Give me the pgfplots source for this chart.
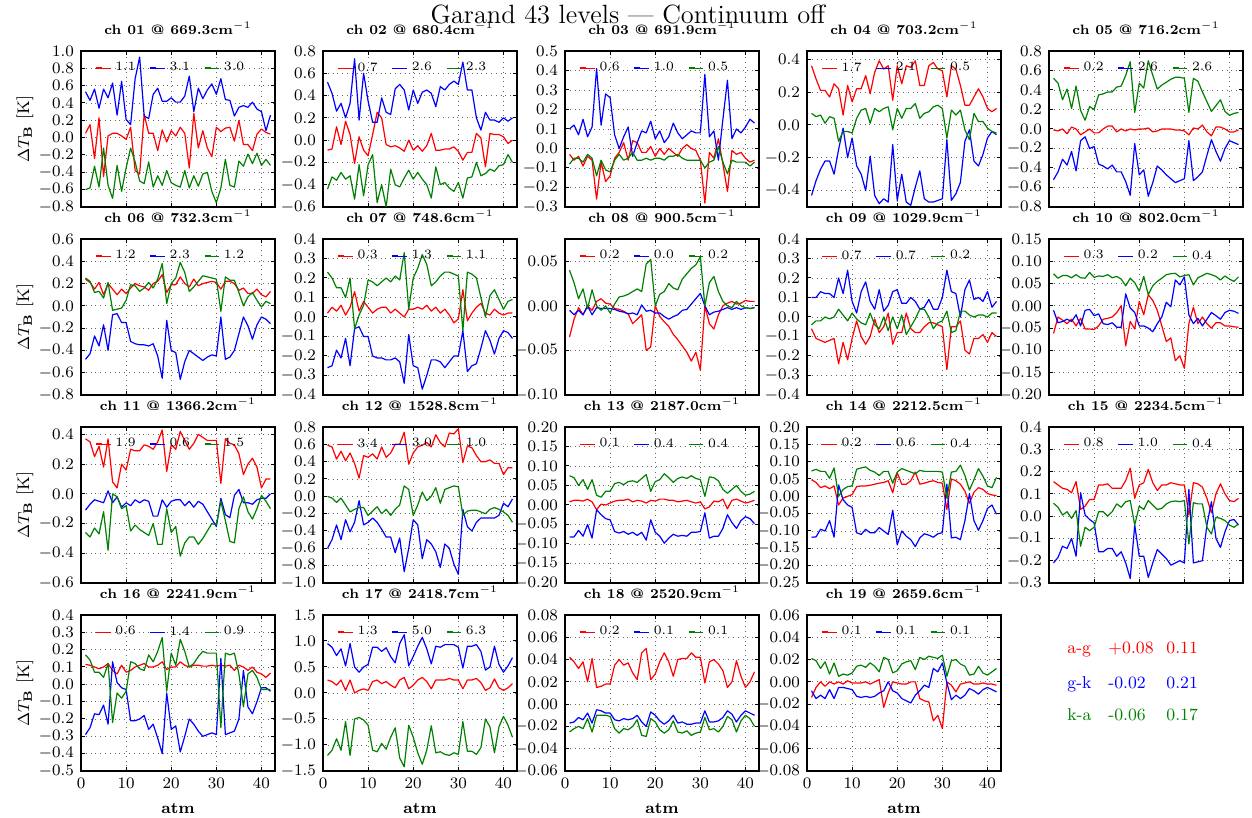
\documentclass[border=0pt]{standalone}
\usepackage{pgfplots}
\pgfplotsset{compat=1.18}
\definecolor{cR}{rgb}{1,0,0}
\definecolor{cB}{rgb}{0,0,1}
\definecolor{cG}{rgb}{0,0.5,0}

% one series: values at levels 1..42
\newcommand{\ser}[2]{\addplot[#1] table[row sep=\\, header=false, x expr=\coordindex+1, y index=0] {#2};}

\pgfplotsset{
  panel/.style={
    scale only axis, width=97pt, height=78pt, anchor=south west,
    xmin=0, xmax=43, xtick={0,10,20,30,40}, xticklabels={},
    scaled y ticks=false, tick align=inside, major tick length=2.2pt,
    every tick/.style={black, line width=0.5pt},
    axis line style={line width=0.8pt},
    grid=major, major grid style={dotted, black!60, line width=0.4pt},
    tick label style={font=\fontsize{8}{9}\selectfont},
    title style={font=\bfseries\fontsize{6.8}{8}\selectfont, at={(0.5,1)}, anchor=base, yshift=2.4pt, inner sep=0pt},
    every axis plot/.append style={line width=0.6pt, line join=round},
    legend columns=3,
    legend style={draw=none, fill=none, at={(0,1)}, anchor=north west, xshift=7pt, yshift=-3.5pt,
      inner sep=0pt, font=\fontsize{6.4}{7}\selectfont,
      /tikz/every even column/.append style={column sep=5pt}},
    legend image code/.code={\draw[##1, line width=0.7pt] (0pt,0pt) -- (3pt,0pt); \path (0pt,0pt) -- (7.4pt,0pt);},
  },
  p1/.style={yticklabel style={/pgf/number format/.cd, fixed, fixed zerofill, precision=1}},
  p2/.style={yticklabel style={/pgf/number format/.cd, fixed, fixed zerofill, precision=2}},
  leftcol/.style={ylabel={$\Delta T_{\mathbf{B}}$ [K]},
    ylabel style={at={(axis description cs:-0.289,0.5)}, anchor=center, font=\fontsize{8.4}{10}\selectfont}},
  bottomrow/.style={xticklabels={0,10,20,30,40}, xlabel={\textbf{atm}},
    xlabel style={at={(axis description cs:0.5,0)}, anchor=center, yshift=-18.5pt, font=\fontsize{8}{10}\selectfont}},
}

\begin{document}
\begin{tikzpicture}
\useasboundingbox (0,0) rectangle (626pt,409pt);

\node[font=\fontsize{13.2}{15}\selectfont, inner sep=0pt, anchor=base] at (314pt,397pt) {Garand 43 levels --- Continuum off};

% ---------------- row 1 ----------------
\begin{axis}[panel, p1, leftcol, at={(40.5pt,305.5pt)}, title={ch 01 @ 669.3cm$^{-1}$},
  ymin=-0.8, ymax=1.0, ytick={-0.8,-0.6,-0.4,-0.2,0,0.2,0.4,0.6,0.8,1.0}]
\ser{cR}{0.05\\0.15\\-0.24\\0.23\\-0.45\\0.02\\0.05\\0.05\\0.02\\-0.02\\0.12\\-0.38\\-0.42\\0.27\\0.05\\0.05\\-0.15\\0.09\\-0.05\\0.08\\0.02\\0.12\\0.05\\-0.35\\0.28\\-0.12\\0.08\\-0.12\\-0.22\\0.12\\0.07\\0.11\\0.12\\-0.04\\0.20\\-0.08\\-0.08\\-0.15\\0.04\\0.10\\0.06\\0.04\\}
\ser{cB}{0.53\\0.43\\0.56\\0.34\\0.56\\0.46\\0.63\\0.26\\0.65\\0.21\\0.15\\0.68\\0.93\\0.25\\0.22\\0.50\\0.57\\0.42\\0.42\\0.46\\0.41\\0.41\\0.48\\0.71\\0.30\\0.57\\0.45\\0.55\\0.62\\0.50\\0.68\\0.44\\0.43\\0.25\\0.35\\0.37\\0.35\\0.41\\0.33\\0.30\\0.08\\0.26\\}
\ser{cG}{-0.60\\-0.58\\-0.33\\-0.57\\-0.12\\-0.55\\-0.70\\-0.32\\-0.62\\-0.35\\-0.12\\-0.28\\-0.50\\-0.53\\-0.28\\-0.57\\-0.44\\-0.55\\-0.38\\-0.52\\-0.55\\-0.57\\-0.38\\-0.58\\-0.44\\-0.56\\-0.42\\-0.40\\-0.62\\-0.75\\-0.58\\-0.25\\-0.55\\-0.57\\-0.27\\-0.33\\-0.19\\-0.30\\-0.18\\-0.32\\-0.25\\-0.32\\}
\legend{1.1,3.1,3.0}
\end{axis}

\begin{axis}[panel, p1, at={(161.5pt,305.5pt)}, title={ch 02 @ 680.4cm$^{-1}$},
  ymin=-0.6, ymax=0.8, ytick={-0.6,-0.4,-0.2,0,0.2,0.4,0.6,0.8}]
\ser{cR}{-0.09\\-0.08\\0.12\\-0.04\\0.17\\0.05\\-0.21\\0.03\\-0.09\\-0.14\\0.05\\0.25\\0.20\\-0.04\\-0.06\\-0.05\\-0.07\\-0.10\\0.00\\-0.09\\-0.05\\-0.10\\-0.05\\0.06\\-0.09\\-0.09\\-0.08\\-0.08\\-0.06\\-0.10\\-0.18\\-0.11\\-0.11\\0.06\\0.02\\-0.24\\0.06\\0.05\\0.05\\0.03\\-0.03\\0.00\\}
\ser{cB}{0.52\\0.42\\0.26\\0.33\\0.20\\0.33\\0.73\\0.18\\0.60\\0.35\\0.16\\0.16\\0.38\\0.25\\0.23\\0.46\\0.50\\0.45\\0.27\\0.45\\0.33\\0.43\\0.45\\0.42\\0.30\\0.48\\0.45\\0.50\\0.53\\0.50\\0.70\\0.45\\0.45\\0.20\\0.09\\0.25\\0.18\\0.18\\0.16\\0.20\\0.17\\0.20\\}
\ser{cG}{-0.44\\-0.33\\-0.36\\-0.29\\-0.35\\-0.32\\-0.53\\-0.22\\-0.50\\-0.22\\-0.13\\-0.56\\-0.40\\-0.60\\-0.26\\-0.40\\-0.42\\-0.34\\-0.27\\-0.35\\-0.29\\-0.35\\-0.40\\-0.52\\-0.24\\-0.40\\-0.38\\-0.43\\-0.46\\-0.38\\-0.52\\-0.34\\-0.33\\-0.20\\-0.32\\-0.30\\-0.26\\-0.28\\-0.23\\-0.22\\-0.13\\-0.20\\}
\legend{0.7,2.6,2.3}
\end{axis}

\begin{axis}[panel, p1, at={(282.5pt,305.5pt)}, title={ch 03 @ 691.9cm$^{-1}$},
  ymin=-0.3, ymax=0.5, ytick={-0.3,-0.2,-0.1,0,0.1,0.2,0.3,0.4,0.5}]
\ser{cR}{-0.03\\-0.06\\-0.04\\-0.09\\-0.04\\-0.06\\-0.26\\-0.07\\-0.17\\-0.14\\-0.05\\-0.02\\0.03\\-0.06\\0.04\\0.03\\-0.02\\-0.02\\0.01\\-0.04\\0.00\\-0.03\\0.00\\-0.02\\-0.04\\0.00\\0.02\\0.00\\-0.01\\-0.06\\-0.28\\-0.02\\-0.05\\0.05\\-0.08\\-0.22\\-0.01\\-0.03\\-0.02\\-0.05\\-0.07\\-0.06\\}
\ser{cB}{0.10\\0.12\\0.07\\0.15\\0.06\\0.11\\0.41\\0.12\\0.28\\0.26\\0.07\\0.00\\0.06\\0.11\\-0.04\\0.03\\0.09\\0.08\\0.14\\0.05\\0.09\\0.03\\0.06\\0.13\\0.08\\0.05\\0.07\\0.09\\0.08\\0.08\\0.38\\0.06\\0.09\\-0.06\\0.15\\0.35\\0.05\\0.10\\0.08\\0.11\\0.15\\0.13\\}
\ser{cG}{-0.08\\-0.05\\-0.05\\-0.07\\-0.03\\-0.05\\-0.14\\-0.06\\-0.11\\-0.12\\-0.06\\-0.03\\-0.06\\-0.05\\-0.02\\-0.06\\-0.06\\-0.05\\-0.06\\-0.05\\-0.05\\-0.06\\-0.04\\-0.04\\-0.03\\-0.05\\-0.06\\-0.06\\-0.06\\-0.06\\-0.10\\-0.07\\-0.06\\0.01\\-0.07\\-0.13\\-0.06\\-0.07\\-0.07\\-0.07\\-0.09\\-0.07\\}
\legend{0.6,1.0,0.5}
\end{axis}

\begin{axis}[panel, p1, at={(403.5pt,305.5pt)}, title={ch 04 @ 703.2cm$^{-1}$},
  ymin=-0.5, ymax=0.45, ytick={-0.4,-0.2,0,0.2,0.4}]
\ser{cR}{0.36\\0.28\\0.21\\0.21\\0.17\\0.25\\0.22\\0.06\\0.24\\0.14\\0.22\\0.22\\0.30\\0.19\\0.32\\0.39\\0.34\\0.36\\0.15\\0.36\\0.25\\0.36\\0.35\\0.39\\0.24\\0.24\\0.36\\0.38\\0.34\\0.33\\0.17\\0.36\\0.34\\0.24\\0.12\\0.12\\0.17\\0.22\\0.17\\0.10\\0.08\\0.10\\}
\ser{cB}{-0.43\\-0.34\\-0.27\\-0.22\\-0.22\\-0.30\\-0.15\\-0.02\\-0.20\\-0.08\\-0.25\\-0.30\\-0.40\\-0.19\\-0.43\\-0.48\\-0.45\\-0.47\\-0.12\\-0.46\\-0.30\\-0.47\\-0.49\\-0.38\\-0.28\\-0.45\\-0.47\\-0.47\\-0.46\\-0.45\\-0.09\\-0.46\\-0.42\\-0.35\\-0.10\\-0.03\\-0.22\\-0.25\\-0.18\\-0.08\\-0.04\\-0.06\\}
\ser{cG}{0.07\\0.05\\0.06\\0.01\\0.05\\0.04\\-0.10\\-0.04\\-0.04\\-0.05\\0.04\\0.09\\0.10\\0.01\\0.10\\0.08\\0.10\\0.11\\-0.03\\0.10\\0.04\\0.10\\0.10\\0.13\\0.04\\0.07\\0.08\\0.11\\0.12\\0.10\\-0.08\\0.09\\0.06\\0.09\\-0.03\\-0.09\\0.07\\0.02\\0.02\\-0.02\\-0.04\\-0.05\\}
\legend{1.7,2.1,0.5}
\end{axis}

\begin{axis}[panel, p1, at={(524.5pt,305.5pt)}, title={ch 05 @ 716.2cm$^{-1}$},
  ymin=-0.8, ymax=0.8, ytick={-0.8,-0.6,-0.4,-0.2,0,0.2,0.4,0.6,0.8}]
\ser{cR}{-0.01\\-0.02\\0.00\\-0.05\\0.02\\0.00\\-0.06\\-0.03\\0.00\\-0.04\\-0.04\\0.00\\0.03\\0.03\\-0.03\\0.00\\-0.02\\0.00\\-0.01\\0.00\\0.00\\0.01\\-0.03\\-0.02\\0.00\\0.00\\0.00\\-0.01\\-0.01\\-0.02\\-0.06\\0.01\\0.00\\0.04\\-0.03\\-0.07\\0.02\\0.02\\0.00\\-0.03\\-0.03\\-0.01\\}
\ser{cB}{-0.52\\-0.44\\-0.31\\-0.37\\-0.23\\-0.43\\-0.12\\-0.08\\-0.20\\-0.18\\-0.36\\-0.38\\-0.41\\-0.37\\-0.44\\-0.44\\-0.54\\-0.68\\-0.15\\-0.47\\-0.42\\-0.69\\-0.55\\-0.38\\-0.42\\-0.47\\-0.51\\-0.55\\-0.53\\-0.51\\-0.12\\-0.53\\-0.49\\-0.44\\-0.27\\-0.11\\-0.23\\-0.33\\-0.20\\-0.12\\-0.14\\-0.16\\}
\ser{cG}{0.52\\0.47\\0.30\\0.41\\0.21\\0.44\\0.19\\0.09\\0.23\\0.20\\0.35\\0.36\\0.38\\0.38\\0.43\\0.44\\0.55\\0.69\\0.17\\0.47\\0.42\\0.70\\0.55\\0.41\\0.45\\0.48\\0.51\\0.53\\0.53\\0.52\\0.17\\0.52\\0.49\\0.38\\0.28\\0.18\\0.24\\0.30\\0.18\\0.14\\0.16\\0.17\\}
\legend{0.2,2.6,2.6}
\end{axis}

% ---------------- row 2 ----------------
\begin{axis}[panel, p1, leftcol, at={(40.5pt,211.5pt)}, title={ch 06 @ 732.3cm$^{-1}$},
  ymin=-0.8, ymax=0.6, ytick={-0.8,-0.6,-0.4,-0.2,0,0.2,0.4,0.6}]
\ser{cR}{0.24\\0.21\\0.15\\0.21\\0.10\\0.20\\0.15\\0.10\\0.15\\0.11\\0.16\\0.20\\0.18\\0.17\\0.14\\0.20\\0.22\\0.28\\0.12\\0.19\\0.19\\0.26\\0.20\\0.17\\0.24\\0.18\\0.20\\0.21\\0.22\\0.21\\0.15\\0.22\\0.22\\0.20\\0.14\\0.16\\0.11\\0.11\\0.15\\0.10\\0.08\\0.13\\}
\ser{cB}{-0.48\\-0.43\\-0.27\\-0.36\\-0.17\\-0.40\\-0.08\\-0.07\\-0.15\\-0.15\\-0.32\\-0.34\\-0.35\\-0.35\\-0.36\\-0.34\\-0.45\\-0.65\\-0.13\\-0.40\\-0.42\\-0.66\\-0.50\\-0.40\\-0.43\\-0.46\\-0.49\\-0.46\\-0.44\\-0.45\\-0.10\\-0.48\\-0.46\\-0.40\\-0.25\\-0.10\\-0.18\\-0.30\\-0.17\\-0.10\\-0.12\\-0.16\\}
\ser{cG}{0.25\\0.22\\0.12\\0.13\\0.07\\0.21\\-0.04\\-0.03\\-0.02\\0.05\\0.19\\0.18\\0.13\\0.16\\0.21\\0.16\\0.24\\0.38\\0.02\\0.20\\0.25\\0.39\\0.30\\0.13\\0.17\\0.22\\0.27\\0.26\\0.25\\0.24\\-0.05\\0.26\\0.23\\0.23\\0.12\\0.00\\0.08\\0.12\\0.05\\-0.01\\0.04\\0.02\\}
\legend{1.2,2.3,1.2}
\end{axis}

\begin{axis}[panel, p1, at={(161.5pt,211.5pt)}, title={ch 07 @ 748.6cm$^{-1}$},
  ymin=-0.4, ymax=0.4, ytick={-0.4,-0.3,-0.2,-0.1,0,0.1,0.2,0.3,0.4}]
\ser{cR}{0.02\\0.05\\0.03\\0.06\\0.01\\0.05\\0.13\\0.03\\0.08\\0.05\\0.02\\0.04\\0.05\\0.05\\0.02\\0.04\\0.02\\0.00\\0.04\\0.04\\0.05\\0.04\\0.06\\0.03\\0.05\\0.02\\0.04\\0.01\\-0.03\\-0.01\\0.14\\-0.02\\0.02\\0.05\\0.07\\0.02\\0.01\\0.04\\0.02\\0.01\\0.02\\0.02\\}
\ser{cB}{-0.26\\-0.25\\-0.17\\-0.21\\-0.11\\-0.25\\-0.06\\-0.05\\-0.10\\-0.10\\-0.20\\-0.21\\-0.21\\-0.22\\-0.22\\-0.21\\-0.23\\-0.34\\-0.09\\-0.25\\-0.26\\-0.37\\-0.30\\-0.22\\-0.22\\-0.23\\-0.26\\-0.23\\-0.20\\-0.20\\-0.07\\-0.28\\-0.25\\-0.24\\-0.16\\-0.07\\-0.12\\-0.19\\-0.11\\-0.07\\-0.08\\-0.11\\}
\ser{cG}{0.23\\0.20\\0.15\\0.15\\0.10\\0.20\\-0.06\\0.01\\0.06\\0.19\\0.18\\0.16\\0.18\\0.20\\0.18\\0.21\\0.19\\0.33\\0.04\\0.20\\0.25\\0.32\\0.27\\0.16\\0.18\\0.21\\0.23\\0.23\\0.22\\0.21\\-0.07\\0.23\\0.22\\0.20\\0.10\\0.00\\0.11\\0.14\\0.09\\0.04\\0.08\\0.09\\}
\legend{0.3,1.3,1.1}
\end{axis}

\begin{axis}[panel, p2, at={(282.5pt,211.5pt)}, title={ch 08 @ 900.5cm$^{-1}$},
  ymin=-0.10, ymax=0.075, ytick={-0.10,-0.05,0,0.05}]
\ser{cR}{-0.035\\-0.015\\-0.002\\-0.010\\0.000\\-0.005\\0.005\\0.008\\0.003\\0.002\\-0.003\\-0.004\\-0.006\\-0.009\\-0.020\\-0.015\\-0.010\\-0.050\\-0.046\\0.000\\-0.012\\-0.018\\-0.023\\-0.032\\-0.038\\-0.045\\-0.052\\-0.062\\-0.052\\-0.072\\0.000\\-0.020\\-0.026\\-0.010\\0.000\\0.003\\0.005\\0.002\\0.003\\0.006\\0.005\\0.005\\}
\ser{cB}{-0.005\\-0.010\\-0.005\\-0.010\\0.000\\-0.010\\-0.002\\-0.003\\-0.003\\-0.003\\-0.004\\-0.006\\-0.007\\-0.009\\-0.008\\-0.010\\0.001\\-0.006\\-0.005\\-0.008\\-0.008\\-0.012\\-0.015\\-0.012\\-0.010\\-0.005\\-0.004\\0.002\\0.008\\0.014\\0.000\\-0.010\\-0.007\\-0.006\\-0.004\\-0.002\\-0.004\\-0.002\\-0.004\\-0.002\\-0.003\\-0.002\\}
\ser{cG}{0.040\\0.026\\0.008\\0.019\\-0.003\\0.018\\0.000\\-0.005\\0.000\\-0.008\\0.002\\0.010\\0.011\\0.013\\0.016\\0.019\\0.016\\0.047\\0.052\\0.000\\0.013\\0.016\\0.025\\0.020\\0.018\\0.030\\0.036\\0.042\\0.046\\0.055\\0.000\\0.026\\0.033\\0.016\\0.005\\0.000\\-0.002\\0.005\\0.000\\-0.002\\-0.003\\-0.002\\}
\legend{0.2,0.0,0.2}
\end{axis}

\begin{axis}[panel, p1, at={(403.5pt,211.5pt)}, title={ch 09 @ 1029.9cm$^{-1}$},
  ymin=-0.4, ymax=0.4, ytick={-0.4,-0.3,-0.2,-0.1,0,0.1,0.2,0.3,0.4}]
\ser{cR}{-0.06\\-0.11\\-0.12\\-0.13\\-0.12\\-0.11\\-0.24\\-0.13\\-0.22\\-0.11\\-0.02\\-0.10\\-0.14\\-0.10\\-0.01\\-0.08\\-0.05\\0.02\\-0.14\\-0.08\\-0.08\\0.02\\-0.06\\-0.08\\-0.08\\-0.05\\-0.03\\-0.03\\-0.04\\-0.05\\-0.27\\-0.05\\-0.05\\-0.02\\-0.17\\-0.19\\-0.11\\-0.11\\-0.09\\-0.13\\-0.08\\-0.10\\}
\ser{cB}{0.10\\0.10\\0.13\\0.12\\0.12\\0.10\\0.20\\0.12\\0.24\\0.08\\0.02\\0.13\\0.18\\0.08\\0.04\\0.14\\0.03\\0.06\\0.13\\0.14\\0.07\\0.07\\0.10\\0.08\\0.04\\0.05\\0.09\\0.04\\0.04\\0.10\\0.24\\0.13\\0.12\\0.00\\0.14\\0.19\\0.09\\0.10\\0.08\\0.13\\0.05\\0.08\\}
\ser{cG}{-0.04\\-0.02\\-0.02\\0.00\\-0.01\\0.00\\0.04\\0.01\\-0.02\\0.02\\-0.01\\-0.03\\-0.04\\0.02\\-0.04\\-0.06\\0.00\\-0.07\\0.00\\-0.06\\0.01\\-0.09\\-0.05\\-0.01\\0.04\\0.04\\0.00\\-0.06\\-0.03\\-0.02\\0.03\\-0.08\\-0.07\\0.03\\0.03\\0.01\\0.00\\0.01\\0.01\\0.00\\0.02\\0.02\\}
\legend{0.7,0.7,0.2}
\end{axis}

\begin{axis}[panel, p2, at={(524.5pt,211.5pt)}, title={ch 10 @ 802.0cm$^{-1}$},
  ymin=-0.20, ymax=0.15, ytick={-0.20,-0.15,-0.10,-0.05,0,0.05,0.10,0.15}]
\ser{cR}{-0.062\\-0.025\\-0.032\\-0.040\\-0.030\\-0.045\\-0.028\\-0.052\\-0.052\\-0.053\\-0.045\\-0.030\\-0.028\\-0.025\\-0.015\\0.000\\-0.090\\-0.035\\-0.052\\0.010\\-0.020\\0.025\\0.012\\-0.010\\-0.045\\-0.080\\-0.072\\-0.123\\-0.112\\-0.140\\-0.040\\-0.003\\-0.040\\-0.025\\-0.040\\-0.050\\-0.038\\-0.038\\-0.045\\-0.045\\-0.047\\-0.048\\}
\ser{cB}{-0.010\\-0.038\\-0.035\\-0.030\\-0.035\\-0.020\\-0.045\\-0.010\\-0.008\\-0.022\\-0.018\\-0.040\\-0.042\\-0.038\\-0.048\\-0.048\\0.027\\-0.005\\-0.015\\-0.045\\-0.045\\-0.050\\-0.058\\-0.040\\-0.025\\0.008\\-0.002\\0.058\\0.047\\0.065\\-0.020\\-0.040\\-0.028\\-0.045\\-0.030\\-0.015\\-0.022\\-0.030\\-0.015\\-0.010\\-0.012\\-0.017\\}
\ser{cG}{0.072\\0.062\\0.068\\0.068\\0.063\\0.070\\0.063\\0.062\\0.075\\0.064\\0.067\\0.066\\0.070\\0.063\\0.066\\0.060\\0.045\\0.062\\0.052\\0.033\\0.066\\0.025\\0.045\\0.055\\0.062\\0.070\\0.072\\0.073\\0.065\\0.068\\0.070\\0.047\\0.063\\0.068\\0.073\\0.070\\0.066\\0.058\\0.067\\0.060\\0.055\\0.065\\}
\legend{0.3,0.2,0.4}
\end{axis}

% ---------------- row 3 ----------------
\begin{axis}[panel, p1, leftcol, at={(40.5pt,117.5pt)}, title={ch 11 @ 1366.2cm$^{-1}$},
  ymin=-0.6, ymax=0.45, ytick={-0.6,-0.4,-0.2,0,0.2,0.4}]
\ser{cR}{0.37\\0.35\\0.25\\0.32\\0.18\\0.37\\0.08\\0.04\\0.20\\0.16\\0.30\\0.29\\0.29\\0.33\\0.32\\0.30\\0.35\\0.43\\0.15\\0.33\\0.30\\0.42\\0.36\\0.30\\0.34\\0.40\\0.38\\0.36\\0.36\\0.36\\0.07\\0.37\\0.34\\0.33\\0.27\\0.13\\0.20\\0.24\\0.18\\0.04\\0.10\\0.10\\}
\ser{cB}{-0.11\\-0.07\\-0.04\\-0.05\\-0.06\\0.02\\-0.06\\-0.02\\-0.09\\-0.06\\-0.08\\-0.04\\-0.06\\-0.04\\-0.05\\-0.15\\-0.15\\-0.04\\-0.09\\-0.05\\-0.04\\-0.04\\-0.08\\-0.05\\-0.09\\-0.05\\-0.07\\-0.12\\-0.17\\-0.22\\-0.03\\-0.14\\-0.16\\-0.01\\0.03\\-0.06\\-0.06\\-0.07\\-0.04\\-0.03\\-0.03\\0.00\\}
\ser{cG}{-0.26\\-0.29\\-0.23\\-0.27\\-0.12\\-0.38\\0.00\\-0.02\\-0.10\\-0.08\\-0.25\\-0.21\\-0.24\\-0.26\\-0.28\\-0.20\\-0.34\\-0.34\\-0.10\\-0.26\\-0.22\\-0.42\\-0.33\\-0.29\\-0.29\\-0.34\\-0.30\\-0.25\\-0.20\\-0.21\\-0.05\\-0.18\\-0.32\\-0.33\\-0.10\\-0.02\\-0.12\\-0.17\\-0.10\\-0.01\\-0.05\\-0.10\\}
\legend{1.9,0.6,1.5}
\end{axis}

\begin{axis}[panel, p1, at={(161.5pt,117.5pt)}, title={ch 12 @ 1528.8cm$^{-1}$},
  ymin=-1.0, ymax=0.8, ytick={-1.0,-0.8,-0.6,-0.4,-0.2,0,0.2,0.4,0.6,0.8}]
\ser{cR}{0.59\\0.57\\0.43\\0.52\\0.41\\0.50\\0.38\\0.21\\0.47\\0.45\\0.49\\0.43\\0.57\\0.45\\0.50\\0.60\\0.60\\0.74\\0.37\\0.50\\0.57\\0.59\\0.62\\0.57\\0.71\\0.62\\0.57\\0.73\\0.72\\0.78\\0.39\\0.58\\0.56\\0.47\\0.40\\0.40\\0.42\\0.38\\0.38\\0.25\\0.33\\0.33\\}
\ser{cB}{-0.60\\-0.50\\-0.33\\-0.50\\-0.27\\-0.41\\-0.30\\-0.05\\-0.33\\-0.30\\-0.25\\-0.30\\-0.38\\-0.47\\-0.47\\-0.65\\-0.48\\-0.87\\-0.60\\-0.27\\-0.33\\-0.72\\-0.50\\-0.55\\-0.64\\-0.82\\-0.55\\-0.60\\-0.78\\-0.90\\-0.15\\-0.35\\-0.40\\-0.30\\-0.25\\-0.25\\-0.25\\-0.25\\-0.22\\-0.08\\-0.12\\-0.03\\}
\ser{cG}{0.00\\-0.02\\-0.07\\-0.02\\-0.10\\-0.18\\-0.15\\-0.13\\-0.13\\-0.22\\-0.17\\-0.12\\-0.20\\-0.15\\-0.22\\-0.15\\-0.10\\0.12\\0.08\\-0.22\\-0.10\\0.05\\-0.05\\0.00\\0.10\\-0.08\\0.08\\0.10\\0.12\\0.11\\-0.22\\-0.17\\-0.16\\-0.16\\-0.18\\-0.20\\-0.15\\-0.13\\-0.15\\-0.18\\-0.22\\-0.30\\}
\legend{3.4,3.0,1.0}
\end{axis}

\begin{axis}[panel, p2, at={(282.5pt,117.5pt)}, title={ch 13 @ 2187.0cm$^{-1}$},
  ymin=-0.20, ymax=0.20, ytick={-0.20,-0.15,-0.10,-0.05,0,0.05,0.10,0.15,0.20}]
\ser{cR}{0.008\\0.012\\0.012\\0.010\\0.015\\0.008\\-0.012\\0.002\\0.000\\0.005\\0.010\\0.012\\0.012\\0.015\\0.008\\0.012\\0.010\\0.005\\0.012\\0.010\\0.015\\0.015\\0.012\\0.012\\0.008\\0.010\\0.012\\0.008\\0.005\\0.008\\-0.010\\-0.005\\0.010\\0.008\\0.015\\-0.010\\0.012\\0.015\\0.010\\0.005\\0.008\\0.012\\}
\ser{cB}{-0.082\\-0.082\\-0.065\\-0.080\\-0.050\\-0.085\\-0.012\\-0.025\\-0.035\\-0.038\\-0.068\\-0.072\\-0.068\\-0.075\\-0.070\\-0.078\\-0.070\\-0.090\\-0.038\\-0.070\\-0.080\\-0.098\\-0.085\\-0.075\\-0.080\\-0.078\\-0.080\\-0.070\\-0.070\\-0.068\\-0.020\\-0.085\\-0.080\\-0.080\\-0.060\\-0.025\\-0.045\\-0.060\\-0.040\\-0.030\\-0.035\\-0.048\\}
\ser{cG}{0.075\\0.070\\0.050\\0.065\\0.040\\0.065\\0.025\\0.020\\0.035\\0.035\\0.055\\0.058\\0.052\\0.060\\0.062\\0.058\\0.068\\0.078\\0.035\\0.060\\0.065\\0.080\\0.070\\0.058\\0.068\\0.072\\0.068\\0.075\\0.068\\0.065\\0.022\\0.072\\0.070\\0.062\\0.040\\0.030\\0.040\\0.050\\0.035\\0.025\\0.028\\0.035\\}
\legend{0.1,0.4,0.4}
\end{axis}

\begin{axis}[panel, p2, at={(403.5pt,117.5pt)}, title={ch 14 @ 2212.5cm$^{-1}$},
  ymin=-0.25, ymax=0.20, ytick={-0.25,-0.20,-0.15,-0.10,-0.05,0,0.05,0.10,0.15,0.20}]
\ser{cR}{0.048\\0.040\\0.025\\0.030\\0.022\\0.030\\-0.025\\-0.005\\0.000\\0.005\\0.028\\0.030\\0.030\\0.032\\0.035\\0.038\\0.040\\0.045\\0.010\\0.068\\0.035\\0.035\\0.045\\0.070\\0.035\\0.038\\0.042\\0.045\\0.040\\0.038\\-0.038\\0.050\\0.045\\0.035\\0.015\\-0.020\\0.012\\0.025\\0.020\\0.008\\0.004\\0.002\\}
\ser{cB}{-0.118\\-0.117\\-0.095\\-0.100\\-0.070\\-0.118\\0.033\\-0.010\\-0.025\\-0.032\\-0.105\\-0.110\\-0.095\\-0.105\\-0.105\\-0.090\\-0.100\\-0.110\\-0.040\\-0.140\\-0.100\\-0.115\\-0.125\\-0.145\\-0.120\\-0.108\\-0.112\\-0.118\\-0.108\\-0.105\\0.035\\-0.120\\-0.118\\-0.125\\-0.070\\0.008\\-0.070\\-0.098\\-0.070\\-0.035\\-0.025\\-0.052\\}
\ser{cG}{0.073\\0.078\\0.072\\0.072\\0.052\\0.082\\0.000\\0.020\\0.028\\0.030\\0.078\\0.082\\0.085\\0.075\\0.070\\0.060\\0.072\\0.072\\0.038\\0.070\\0.080\\0.075\\0.070\\0.065\\0.075\\0.072\\0.072\\0.072\\0.072\\0.070\\-0.005\\0.070\\0.072\\0.090\\0.060\\0.018\\0.048\\0.080\\0.058\\0.030\\0.025\\0.055\\}
\legend{0.2,0.6,0.4}
\end{axis}

\begin{axis}[panel, p1, at={(524.5pt,117.5pt)}, title={ch 15 @ 2234.5cm$^{-1}$},
  ymin=-0.3, ymax=0.4, ytick={-0.3,-0.2,-0.1,0,0.1,0.2,0.3,0.4}]
\ser{cR}{0.155\\0.140\\0.125\\0.120\\0.105\\0.155\\0.030\\0.045\\0.075\\0.075\\0.140\\0.140\\0.145\\0.125\\0.125\\0.125\\0.160\\0.215\\0.080\\0.140\\0.150\\0.210\\0.150\\0.115\\0.140\\0.140\\0.150\\0.145\\0.140\\0.140\\0.005\\0.150\\0.145\\0.130\\0.080\\0.015\\0.100\\0.145\\0.100\\0.070\\0.065\\0.080\\}
\ser{cB}{-0.210\\-0.185\\-0.135\\-0.145\\-0.100\\-0.180\\0.105\\0.005\\-0.015\\-0.030\\-0.160\\-0.160\\-0.145\\-0.145\\-0.180\\-0.160\\-0.210\\-0.280\\-0.040\\-0.180\\-0.180\\-0.275\\-0.210\\-0.150\\-0.170\\-0.190\\-0.220\\-0.210\\-0.200\\-0.210\\0.120\\-0.210\\-0.205\\-0.200\\-0.040\\0.065\\-0.100\\-0.140\\-0.070\\-0.020\\-0.015\\-0.040\\}
\ser{cG}{0.058\\0.040\\0.005\\0.020\\-0.010\\0.025\\-0.135\\-0.050\\-0.065\\-0.050\\0.020\\0.020\\0.000\\0.020\\0.055\\0.040\\0.065\\0.070\\-0.040\\0.045\\0.030\\0.070\\0.050\\0.030\\0.035\\0.055\\0.065\\0.068\\0.065\\0.070\\-0.125\\0.060\\0.055\\0.055\\-0.050\\-0.080\\-0.005\\-0.010\\-0.020\\-0.040\\-0.050\\-0.035\\}
\legend{0.8,1.0,0.4}
\end{axis}

% ---------------- row 4 ----------------
\begin{axis}[panel, p1, leftcol, bottomrow, at={(40.5pt,23.5pt)}, title={ch 16 @ 2241.9cm$^{-1}$},
  ymin=-0.5, ymax=0.4, ytick={-0.5,-0.4,-0.3,-0.2,-0.1,0,0.1,0.2,0.3,0.4}]
\ser{cR}{0.115\\0.110\\0.100\\0.090\\0.100\\0.120\\0.080\\0.060\\0.110\\0.070\\0.080\\0.100\\0.110\\0.120\\0.100\\0.100\\0.110\\0.130\\0.085\\0.100\\0.100\\0.130\\0.110\\0.100\\0.110\\0.110\\0.105\\0.105\\0.110\\0.105\\0.110\\0.105\\0.110\\0.080\\0.110\\0.100\\0.080\\0.100\\0.070\\0.060\\0.040\\0.065\\}
\ser{cB}{-0.290\\-0.250\\-0.170\\-0.175\\-0.120\\-0.230\\0.130\\0.010\\-0.020\\-0.030\\-0.210\\-0.210\\-0.200\\-0.180\\-0.260\\-0.230\\-0.310\\-0.400\\-0.050\\-0.260\\-0.240\\-0.390\\-0.300\\-0.200\\-0.230\\-0.270\\-0.300\\-0.290\\-0.280\\-0.290\\0.150\\-0.290\\-0.280\\-0.270\\-0.200\\0.080\\-0.130\\-0.170\\-0.100\\-0.020\\-0.020\\-0.040\\}
\ser{cG}{0.170\\0.140\\0.070\\0.070\\0.040\\0.120\\-0.220\\-0.050\\-0.080\\-0.040\\0.130\\0.120\\0.090\\0.080\\0.170\\0.130\\0.190\\0.270\\-0.040\\0.180\\0.110\\0.260\\0.190\\0.100\\0.120\\0.160\\0.190\\0.180\\0.180\\0.180\\-0.250\\0.180\\0.170\\0.180\\0.060\\-0.130\\0.060\\0.080\\0.040\\-0.030\\-0.030\\-0.030\\}
\legend{0.6,1.4,0.9}
\end{axis}

\begin{axis}[panel, p1, bottomrow, at={(161.5pt,23.5pt)}, title={ch 17 @ 2418.7cm$^{-1}$},
  ymin=-1.5, ymax=1.5, ytick={-1.5,-1.0,-0.5,0,0.5,1.0,1.5}]
\ser{cR}{0.25\\0.22\\0.15\\0.25\\0.05\\0.25\\0.00\\0.05\\0.08\\0.05\\0.22\\0.25\\0.18\\0.22\\0.15\\0.10\\0.25\\0.30\\0.08\\0.15\\0.25\\0.30\\0.22\\0.08\\0.25\\0.25\\0.25\\0.28\\0.25\\0.25\\0.08\\0.25\\0.25\\0.28\\0.20\\0.05\\0.10\\0.27\\0.10\\0.05\\0.10\\0.18\\}
\ser{cB}{0.95\\0.88\\0.72\\0.85\\0.52\\0.95\\0.50\\0.40\\0.50\\0.55\\0.88\\0.88\\0.80\\0.87\\0.70\\0.58\\0.95\\1.12\\0.52\\0.70\\0.90\\1.07\\0.85\\0.56\\0.90\\0.88\\0.93\\0.93\\0.93\\0.88\\0.48\\0.90\\0.90\\0.93\\0.80\\0.44\\0.50\\0.90\\0.55\\0.40\\0.52\\0.68\\}
\ser{cG}{-1.20\\-1.10\\-0.88\\-1.10\\-0.55\\-1.20\\-0.50\\-0.47\\-0.52\\-0.62\\-1.10\\-1.13\\-0.97\\-1.08\\-0.85\\-0.67\\-1.25\\-1.42\\-0.62\\-0.85\\-1.15\\-1.37\\-1.10\\-0.63\\-1.15\\-1.13\\-1.18\\-1.20\\-1.15\\-1.18\\-0.55\\-1.12\\-1.12\\-1.18\\-1.05\\-0.50\\-0.65\\-1.15\\-0.65\\-0.45\\-0.62\\-0.85\\}
\legend{1.3,5.0,6.3}
\end{axis}

\begin{axis}[panel, p2, bottomrow, at={(282.5pt,23.5pt)}, title={ch 18 @ 2520.9cm$^{-1}$},
  ymin=-0.06, ymax=0.08, ytick={-0.06,-0.04,-0.02,0,0.02,0.04,0.06,0.08}]
\ser{cR}{0.042\\0.038\\0.032\\0.038\\0.020\\0.041\\0.015\\0.016\\0.018\\0.018\\0.035\\0.040\\0.035\\0.037\\0.028\\0.022\\0.046\\0.050\\0.022\\0.027\\0.038\\0.046\\0.038\\0.025\\0.040\\0.041\\0.041\\0.046\\0.042\\0.042\\0.019\\0.038\\0.040\\0.036\\0.030\\0.015\\0.020\\0.039\\0.025\\0.015\\0.020\\0.029\\}
\ser{cB}{-0.017\\-0.016\\-0.012\\-0.014\\-0.008\\-0.017\\-0.005\\-0.006\\-0.008\\-0.008\\-0.014\\-0.015\\-0.013\\-0.014\\-0.013\\-0.010\\-0.016\\-0.020\\-0.007\\-0.010\\-0.015\\-0.018\\-0.015\\-0.010\\-0.017\\-0.016\\-0.018\\-0.018\\-0.017\\-0.017\\-0.006\\-0.016\\-0.016\\-0.015\\-0.012\\-0.006\\-0.009\\-0.016\\-0.010\\-0.006\\-0.008\\-0.010\\}
\ser{cG}{-0.025\\-0.022\\-0.020\\-0.022\\-0.013\\-0.025\\-0.010\\-0.010\\-0.010\\-0.011\\-0.022\\-0.026\\-0.022\\-0.023\\-0.020\\-0.014\\-0.028\\-0.029\\-0.013\\-0.016\\-0.023\\-0.026\\-0.023\\-0.015\\-0.025\\-0.026\\-0.024\\-0.028\\-0.026\\-0.025\\-0.012\\-0.023\\-0.022\\-0.025\\-0.020\\-0.011\\-0.014\\-0.025\\-0.015\\-0.010\\-0.013\\-0.020\\}
\legend{0.2,0.1,0.1}
\end{axis}

\begin{axis}[panel, p2, bottomrow, at={(403.5pt,23.5pt)}, title={ch 19 @ 2659.6cm$^{-1}$},
  ymin=-0.08, ymax=0.06, ytick={-0.08,-0.06,-0.04,-0.02,0,0.02,0.04,0.06}]
\ser{cR}{-0.014\\-0.005\\0.000\\-0.004\\0.000\\-0.002\\0.000\\-0.002\\0.001\\-0.001\\-0.001\\-0.001\\0.000\\-0.002\\0.000\\0.002\\-0.023\\-0.010\\0.000\\-0.001\\-0.002\\-0.002\\0.000\\0.000\\-0.015\\-0.017\\-0.018\\-0.035\\-0.030\\-0.042\\0.000\\-0.003\\-0.009\\-0.002\\-0.001\\0.000\\-0.002\\-0.002\\-0.001\\-0.002\\-0.002\\-0.003\\}
\ser{cB}{-0.008\\-0.015\\-0.012\\-0.015\\-0.007\\-0.015\\-0.005\\-0.005\\-0.006\\-0.007\\-0.013\\-0.014\\-0.013\\-0.014\\-0.013\\-0.010\\-0.008\\0.000\\-0.008\\-0.010\\-0.015\\-0.017\\-0.019\\-0.012\\-0.008\\-0.003\\-0.005\\0.012\\0.009\\0.017\\-0.001\\-0.016\\-0.012\\-0.015\\-0.012\\-0.006\\-0.008\\-0.011\\-0.007\\-0.005\\-0.007\\-0.009\\}
\ser{cG}{0.021\\0.019\\0.012\\0.018\\0.007\\0.017\\0.005\\0.007\\0.006\\0.008\\0.014\\0.015\\0.013\\0.017\\0.014\\0.009\\0.022\\0.020\\0.008\\0.010\\0.016\\0.018\\0.019\\0.011\\0.022\\0.020\\0.023\\0.022\\0.021\\0.024\\0.005\\0.019\\0.020\\0.016\\0.014\\0.006\\0.007\\0.014\\0.008\\0.006\\0.009\\0.012\\}
\legend{0.1,0.1,0.1}
\end{axis}

% summary of mean and spread per pair
\begin{scope}[every node/.style={anchor=base west, font=\fontsize{8.6}{10}\selectfont, inner sep=0pt}]
\node[text=cR] at (533.5pt,82.1pt) {a-g};
\node[text=cR] at (554pt,82.1pt) {+0.08};
\node[text=cR] at (583pt,82.1pt) {0.11};
\node[text=cB] at (533.5pt,64.6pt) {g-k};
\node[text=cB] at (554pt,64.6pt) {-0.02};
\node[text=cB] at (583pt,64.6pt) {0.21};
\node[text=cG] at (533.5pt,48.6pt) {k-a};
\node[text=cG] at (554pt,48.6pt) {-0.06};
\node[text=cG] at (583pt,48.6pt) {0.17};
\end{scope}
\end{tikzpicture}
\end{document}
